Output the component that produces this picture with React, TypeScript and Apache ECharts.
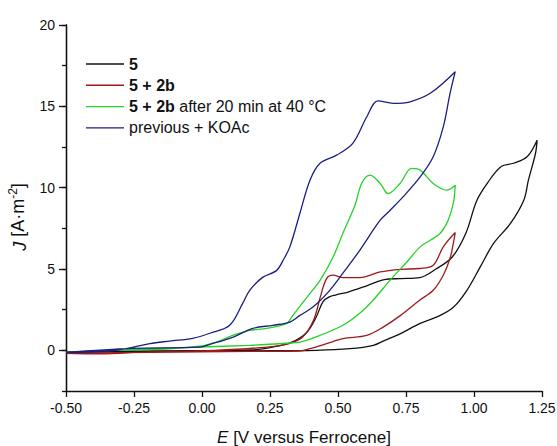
import React, { useEffect, useRef } from 'react';
import * as echarts from 'echarts';

// Series names (legend)
const seriesNames = ['5', '5 + 2b', '5 + 2b after 20 min at 40 °C', 'previous + KOAc'];
const seriesColors = ['#111111', '#9e1b1b', '#27d027', '#1b1f7e'];

// Axis ticks
const xMin = -0.5;
const xMax = 1.25;
const xStep = 0.25;
const yMin = -2.5;
const yMax = 20;
const yStep = 2.5;
const yMajor = [0, 5, 10, 15, 20];

// "5" (black): forward scan then reverse scan
const blackE = [-0.5, -0.19, 0.18, 0.26, 0.33, 0.385, 0.42, 0.445, 0.47, 0.49, 0.54, 0.61, 0.67, 0.73, 0.8, 0.86, 0.92, 0.97, 1.01, 1.05, 1.1, 1.145, 1.195, 1.232,
  1.226, 1.2, 1.183, 1.134, 1.072, 1.023, 0.974, 0.925, 0.876, 0.8, 0.73, 0.67, 0.63, 0.544, 0.42, 0.18, -0.19, -0.5];
const blackJ = [-0.09, -0.03, 0.03, 0.2, 0.5, 1.1, 2.05, 3.0, 3.3, 3.4, 3.6, 4.0, 4.35, 4.41, 4.47, 5.0, 5.74, 7.2, 9.2, 10.3, 11.3, 11.5, 11.9, 12.92,
  12.1, 10.46, 9.23, 7.8, 6.57, 5.13, 3.69, 2.66, 2.15, 1.64, 1.03, 0.6, 0.31, 0.1, 0.0, -0.03, -0.06, -0.09];

// "5 + 2b" (red)
const redE = [-0.5, -0.38, -0.19, 0.05, 0.24, 0.32, 0.37, 0.41, 0.435, 0.458, 0.482, 0.518, 0.58, 0.655, 0.73, 0.8, 0.85, 0.887, 0.931,
  0.924, 0.912, 0.887, 0.85, 0.8, 0.73, 0.666, 0.606, 0.518, 0.458, 0.397, 0.36, 0.18, -0.19, -0.5];
const redJ = [-0.18, -0.22, -0.1, 0.0, 0.2, 0.41, 0.82, 1.85, 3.28, 4.41, 4.62, 4.47, 4.47, 4.82, 4.98, 5.03, 5.23, 6.36, 7.24,
  6.58, 5.66, 4.62, 3.69, 3.08, 2.15, 1.43, 0.92, 0.72, 0.41, 0.1, -0.04, -0.06, -0.12, -0.18];

// "5 + 2b after 20 min at 40 °C" (green)
const greenE = [-0.5, -0.34, -0.19, -0.01, 0.053, 0.113, 0.176, 0.237, 0.311, 0.334, 0.397, 0.434, 0.482, 0.518, 0.562, 0.588, 0.618, 0.655, 0.684, 0.728, 0.771, 0.802, 0.85, 0.9, 0.931,
  0.924, 0.905, 0.876, 0.839, 0.802, 0.753, 0.691, 0.629, 0.58, 0.518, 0.434, 0.36, 0.323, 0.176, -0.071, -0.192, -0.5];
const greenJ = [-0.12, 0.0, 0.04, 0.25, 0.51, 0.92, 1.23, 1.35, 1.66, 2.15, 3.5, 4.3, 5.74, 7.2, 8.9, 10.3, 10.77, 10.26, 9.64, 10.26, 11.18, 11.08, 10.26, 9.85, 10.15,
  9.05, 8.0, 7.2, 6.77, 6.36, 5.43, 4.3, 3.08, 2.28, 1.54, 0.92, 0.51, 0.45, 0.31, 0.17, 0.1, -0.12];

// "previous + KOAc" (blue)
const blueE = [-0.5, -0.34, -0.278, -0.192, -0.119, -0.034, 0.029, 0.102, 0.15, 0.176, 0.224, 0.274, 0.297, 0.323, 0.36, 0.397, 0.434, 0.495, 0.555, 0.606, 0.647, 0.703, 0.765, 0.839, 0.931,
  0.912, 0.887, 0.85, 0.802, 0.739, 0.691, 0.655, 0.58, 0.518, 0.46, 0.408, 0.36, 0.323, 0.26, 0.187, 0.113, 0.029, -0.008, -0.255, -0.5];
const blueJ = [-0.14, -0.04, 0.1, 0.41, 0.57, 0.74, 1.05, 1.54, 2.9, 3.7, 4.5, 4.9, 5.5, 6.36, 8.43, 10.46, 11.5, 12.0, 12.74, 14.36, 15.34, 15.18, 15.28, 15.8, 17.13,
  15.8, 13.74, 11.9, 10.66, 9.43, 8.6, 8.0, 6.15, 4.74, 3.5, 2.66, 2.15, 1.74, 1.54, 1.35, 0.8, 0.37, 0.2, 0.12, -0.12];

const FONT = '"Liberation Sans", Arial, Helvetica, sans-serif';

const zip = (xs: number[], ys: number[]) => xs.map((x, i) => [x, ys[i]]);

const seriesData = [zip(blackE, blackJ), zip(redE, redJ), zip(greenE, greenJ), zip(blueE, blueJ)];

const legendRich: Record<string, string> = {
  '5': '{b|5}',
  '5 + 2b': '{b|5 + 2b}',
  '5 + 2b after 20 min at 40 °C': '{b|5 + 2b}{n| after 20 min at 40 °C}',
  'previous + KOAc': '{n|previous + KOAc}',
};

export default function App() {
  const ref = useRef<HTMLDivElement>(null);
  useEffect(() => {
    if (!ref.current) return;
    const chart = echarts.init(ref.current, null, { renderer: 'svg' });
    const option: any = {
      animation: false,
      backgroundColor: '#ffffff',
      textStyle: { fontFamily: FONT },
      grid: { left: 66, right: 15, top: 25, bottom: 55, containLabel: false, outerBoundsMode: 'none' },
      legend: {
        orient: 'vertical',
        left: 81,
        top: 51,
        itemWidth: 38,
        itemHeight: 1.4,
        itemGap: 5.3,
        icon: 'rect',
        data: seriesNames,
        formatter: (name: string) => legendRich[name] || name,
        textStyle: {
          fontFamily: FONT,
          fontSize: 16,
          color: '#111',
          lineHeight: 16,
          padding: [0, 0, 0, 0],
          rich: {
            b: { fontFamily: FONT, fontSize: 16, fontWeight: 'bold', color: '#111', lineHeight: 16 },
            n: { fontFamily: FONT, fontSize: 16, color: '#111', lineHeight: 16 },
          },
        },
      },
      xAxis: {
        type: 'value',
        min: xMin,
        max: xMax,
        interval: xStep,
        splitLine: { show: false },
        axisLine: { show: true, onZero: false, lineStyle: { color: '#111', width: 1.3 } },
        axisTick: { show: true, inside: false, length: 6, lineStyle: { color: '#111', width: 1.3 } },
        axisLabel: {
          margin: 10,
          fontSize: 14,
          fontFamily: FONT,
          color: '#111',
          formatter: (v: number) => v.toFixed(2),
        },
        name: '{i|E} [V versus Ferrocene]',
        nameLocation: 'middle',
        nameGap: 38,
        nameTextStyle: {
          fontSize: 17,
          fontFamily: FONT,
          color: '#111',
          rich: {
            i: { fontSize: 17, fontFamily: FONT, fontStyle: 'italic', color: '#111' },
          },
        },
      },
      yAxis: [
        {
          type: 'value',
          min: yMin,
          max: yMax,
          interval: yStep,
          splitLine: { show: false },
          axisLine: { show: true, onZero: false, lineStyle: { color: '#111', width: 1.3 } },
          axisTick: { show: true, inside: false, length: 4, lineStyle: { color: '#111', width: 1.3 } },
          axisLabel: {
            margin: 11,
            fontSize: 14,
            fontFamily: FONT,
            color: '#111',
            customValues: yMajor,
            formatter: (v: number) => String(v),
          },
          name: '{i|J} [A·m{s|-2}]',
          nameLocation: 'middle',
          nameGap: 30,
          nameRotate: 90,
          nameTextStyle: {
            fontSize: 18,
            fontFamily: FONT,
            color: '#111',
            padding: [0, 0, 0, -18],
            rich: {
              i: { fontSize: 18, fontFamily: FONT, fontStyle: 'italic', color: '#111', verticalAlign: 'bottom', lineHeight: 22 },
              s: { fontSize: 12, fontFamily: FONT, color: '#111', verticalAlign: 'top', lineHeight: 22 },
            },
          },
        },
        {
          type: 'value',
          min: yMin,
          max: yMax,
          interval: yStep,
          position: 'left',
          splitLine: { show: false },
          axisLine: { show: true, onZero: false, lineStyle: { color: '#111', width: 1.3 } },
          axisLabel: { show: false },
          axisTick: { show: true, inside: false, length: 7, customValues: yMajor, lineStyle: { color: '#111', width: 1.3 } },
        },
      ],
      series: seriesNames.map((name, i) => ({
        name,
        type: 'line',
        data: seriesData[i],
        yAxisIndex: 0,
        symbol: 'none',
        showSymbol: false,
        smooth: 0.35,
        lineStyle: { color: seriesColors[i], width: 1.3 },
        itemStyle: { color: seriesColors[i] },
      })),
    };
    chart.setOption(option);
    return () => chart.dispose();
  }, []);
  return (
    <div
      ref={ref}
      style={{ position: 'fixed', left: 0, top: 0, width: 557, height: 446, background: '#fff' }}
    />
  );
}
